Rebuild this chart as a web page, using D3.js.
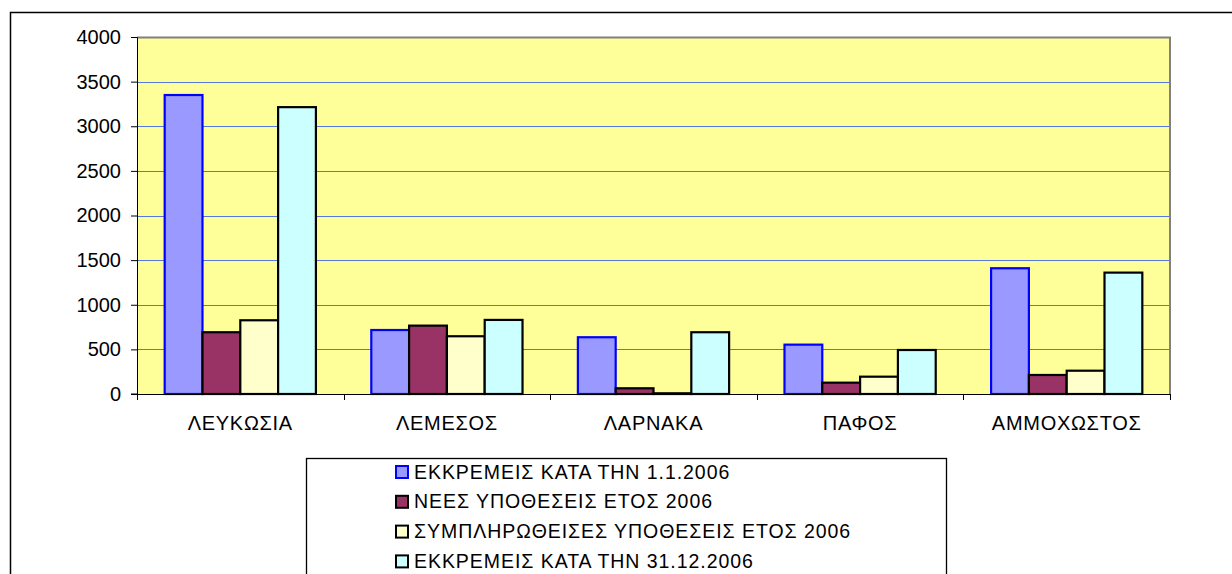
<!DOCTYPE html>
<html>
<head>
<meta charset="utf-8">
<script src="https://cdn.jsdelivr.net/npm/d3@7"></script>
<style>
  body { margin: 0; background: #fff; }
  text { font-family: "Liberation Sans", Arial, sans-serif; fill: #000; }
</style>
</head>
<body>
<div class="chart"></div>
<script>
var categories = ["ΛΕΥΚΩΣΙΑ", "ΛΕΜΕΣΟΣ", "ΛΑΡΝΑΚΑ", "ΠΑΦΟΣ", "ΑΜΜΟΧΩΣΤΟΣ"];
var seriesNames = [
  "ΕΚΚΡΕΜΕΙΣ ΚΑΤΑ ΤΗΝ 1.1.2006",
  "ΝΕΕΣ ΥΠΟΘΕΣΕΙΣ ΕΤΟΣ 2006",
  "ΣΥΜΠΛΗΡΩΘΕΙΣΕΣ ΥΠΟΘΕΣΕΙΣ ΕΤΟΣ 2006",
  "ΕΚΚΡΕΜΕΙΣ ΚΑΤΑ ΤΗΝ 31.12.2006"
];
var pendingStart = [3350, 717, 636, 553, 1409];
var newCases = [692, 766, 64, 127, 213];
var completed = [826, 647, 8, 194, 261];
var pendingEnd = [3214, 830, 692, 493, 1360];
var yTicks = [0, 500, 1000, 1500, 2000, 2500, 3000, 3500, 4000];

var seriesValues = [pendingStart, newCases, completed, pendingEnd];
var fills = ["#9999FF", "#993366", "#FFFFCC", "#CCFFFF"];
var strokes = ["#0000FF", "#000000", "#000000", "#000000"];

var svgWidth = 1232;
var svgHeight = 574;

var margin = { top: 37, right: 62, bottom: 180, left: 137 };
var width = 1170 - margin.left;
var height = 394 - margin.top;

var svg = d3.select(".chart")
  .append("svg")
  .attr("width", svgWidth)
  .attr("height", svgHeight);

// outer chart frame
svg.append("rect")
  .attr("x", 10.5)
  .attr("y", 12.5)
  .attr("width", 1240)
  .attr("height", 700)
  .attr("fill", "none")
  .attr("stroke", "#000")
  .attr("stroke-width", 1.5);

var chartGroup = svg.append("g")
  .attr("transform", `translate(${margin.left}, ${margin.top})`);

var x0 = d3.scaleBand()
  .domain(categories)
  .range([0, width])
  .padding(0);

var groupPad = x0.bandwidth() * 0.134;
var x1 = d3.scaleBand()
  .domain(d3.range(seriesNames.length))
  .range([groupPad, x0.bandwidth() - groupPad])
  .padding(0);

var y = d3.scaleLinear()
  .domain([0, 4000])
  .range([height, 0]);

// plot background
chartGroup.append("rect")
  .attr("x", 0)
  .attr("y", 0)
  .attr("width", width)
  .attr("height", height)
  .attr("fill", "#FFFF99");

// gridlines
chartGroup.selectAll(".grid")
  .data(yTicks.filter(d => d > 0 && d < 4000))
  .enter()
  .append("line")
  .attr("x1", 0)
  .attr("x2", width)
  .attr("y1", d => Math.round(y(d)) + 0.5)
  .attr("y2", d => Math.round(y(d)) + 0.5)
  .attr("stroke", "#5577E0")
  .attr("stroke-width", 1);

// plot border (top and right grey)
chartGroup.append("path")
  .attr("d", `M0,0.5H${width}V${height}`)
  .attr("fill", "none")
  .attr("stroke", "#808080")
  .attr("stroke-width", 2);

// bars
seriesValues.forEach(function(vals, i) {
  chartGroup.selectAll(".bar" + i)
    .data(vals)
    .enter()
    .append("rect")
    .attr("class", "bar" + i)
    .attr("x", (d, j) => x0(categories[j]) + x1(i))
    .attr("y", d => y(d))
    .attr("width", x1.bandwidth())
    .attr("height", d => height - y(d))
    .attr("fill", fills[i])
    .attr("stroke", strokes[i])
    .attr("stroke-width", 2.2)
    .attr("stroke-linejoin", "miter");
});

// y axis
var leftAxis = d3.axisLeft(y)
  .tickValues(yTicks)
  .tickSize(6)
  .tickPadding(10)
  .tickFormat(d3.format("d"));

var yAxis = chartGroup.append("g").call(leftAxis);
yAxis.select(".domain").attr("stroke", "#000").attr("d", `M-6,0.5H0.5V${height}H-6`);
yAxis.selectAll("text")
  .attr("font-size", "20px")
  .attr("font-family", "Liberation Sans, Arial, sans-serif");

// x axis
var bottomAxis = d3.axisBottom(x0).tickSize(0).tickPadding(22);
var xAxis = chartGroup.append("g")
  .attr("transform", `translate(0, ${height})`)
  .call(bottomAxis);
xAxis.select(".domain").attr("stroke", "#000").attr("d", `M0,0.5H${width}`);
xAxis.selectAll("text")
  .attr("font-size", "20px")
  .attr("letter-spacing", "0.7px")
  .attr("font-family", "Liberation Sans, Arial, sans-serif");

// category separator ticks
chartGroup.selectAll(".xtick")
  .data(d3.range(categories.length + 1))
  .enter()
  .append("line")
  .attr("x1", d => Math.round(d * x0.bandwidth()) + 0.5)
  .attr("x2", d => Math.round(d * x0.bandwidth()) + 0.5)
  .attr("y1", height)
  .attr("y2", height + 6)
  .attr("stroke", "#000");

// legend
var legend = svg.append("g");
legend.append("rect")
  .attr("x", 306.5)
  .attr("y", 458.5)
  .attr("width", 640)
  .attr("height", 200)
  .attr("fill", "#fff")
  .attr("stroke", "#000")
  .attr("stroke-width", 1.3);

var legendItems = legend.selectAll(".item")
  .data(seriesNames)
  .enter()
  .append("g")
  .attr("transform", (d, i) => `translate(396, ${472 + i * 29.8})`);

legendItems.append("rect")
  .attr("x", 0)
  .attr("y", -6)
  .attr("width", 12)
  .attr("height", 12)
  .attr("fill", (d, i) => fills[i])
  .attr("stroke", (d, i) => strokes[i])
  .attr("stroke-width", 2);

legendItems.append("text")
  .attr("x", 18)
  .attr("y", 0)
  .attr("dy", "0.34em")
  .attr("font-size", "19.5px")
  .attr("letter-spacing", "0.95px")
  .text(d => d);
</script>
</body>
</html>
